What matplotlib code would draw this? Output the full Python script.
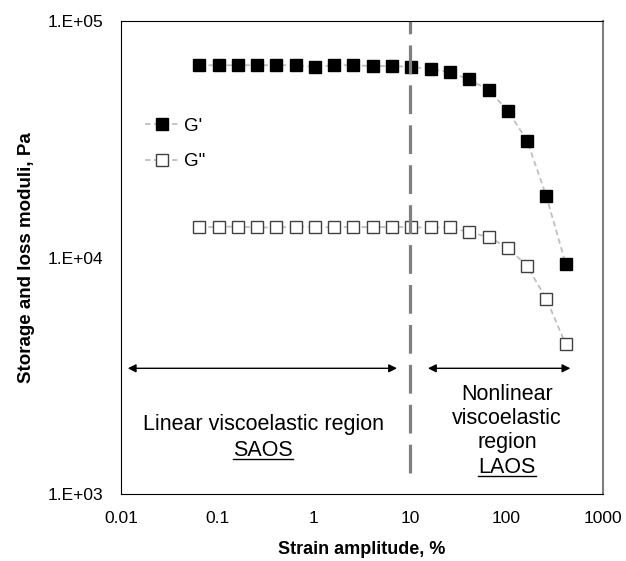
import numpy as np
import matplotlib.pyplot as plt

plt.rcParams['font.family'] = ['Liberation Sans', 'DejaVu Sans']

# strain amplitude (%)
strain = [0.065, 0.103, 0.163, 0.258, 0.41, 0.65, 1.03, 1.63, 2.58, 4.1,
          6.5, 10.3, 16.3, 25.8, 41, 65, 103, 163, 258, 410]
# storage modulus G' (Pa)
g_storage = [6.5e4, 6.5e4, 6.5e4, 6.5e4, 6.5e4, 6.5e4, 6.4e4, 6.5e4, 6.5e4, 6.45e4,
             6.45e4, 6.4e4, 6.27e4, 6.07e4, 5.66e4, 5.1e4, 4.18e4, 3.12e4, 1.82e4, 9.4e3]
# loss modulus G'' (Pa)
g_loss = [1.34e4, 1.35e4, 1.35e4, 1.34e4, 1.34e4, 1.35e4, 1.35e4, 1.34e4, 1.35e4, 1.34e4,
          1.35e4, 1.34e4, 1.34e4, 1.34e4, 1.28e4, 1.22e4, 1.1e4, 9.2e3, 6.7e3, 4.3e3]

xticks = [0.01, 0.1, 1, 10, 100, 1000]
xticklabels = ['0.01', '0.1', '1', '10', '100', '1000']
yticks = [1e3, 1e4, 1e5]
yticklabels = ['1.E+03', '1.E+04', '1.E+05']

fig = plt.figure(figsize=(6.26, 5.61), dpi=100)
ax = fig.add_axes([121/626, 67/561, 482/626, 473/561])

ax.plot(strain, g_storage, color='#BFBFBF', ls=(0, (3, 2)), lw=1.3,
        marker='s', ms=8.5, mfc='black', mec='black', label="G'")
ax.plot(strain, g_loss, color='#BFBFBF', ls=(0, (3, 2)), lw=1.3,
        marker='s', ms=8, mfc='white', mec='#404040', mew=1.0, label='G"')

ax.set_xscale('log')
ax.set_yscale('log')
ax.set_xlim(0.01, 1000)
ax.set_ylim(1e3, 1e5)
ax.set_xticks(xticks)
ax.set_xticklabels(xticklabels)
ax.set_yticks(yticks)
ax.set_yticklabels(yticklabels)
ax.minorticks_off()
ax.tick_params(length=0, labelsize=12.5)
ax.tick_params(axis='y', pad=13)
ax.tick_params(axis='x', pad=12)

for s in ['top', 'left', 'bottom']:
    ax.spines[s].set_color('black')
ax.spines['right'].set_color('#808080')
ax.spines['right'].set_linewidth(1.5)

ax.set_xlabel('Strain amplitude, %', fontsize=13, fontweight='bold', labelpad=11)
ax.set_ylabel('Storage and loss moduli, Pa', fontsize=13.5, fontweight='bold', labelpad=9)

# boundary between SAOS and LAOS
ax.plot([10, 10], [1.23e3, 1e5], color='#808080', lw=2.3, ls=(0, (9, 3.5)))

arrow = dict(arrowstyle='<|-|>', color='black', lw=1, mutation_scale=12)
ax.annotate('', xy=(0.011, 3400), xytext=(7.8, 3400), arrowprops=arrow)
ax.annotate('', xy=(14.3, 3400), xytext=(490, 3400), arrowprops=arrow)

ax.text(0.295, 0.146, 'Linear viscoelastic region', transform=ax.transAxes,
        ha='center', va='center', fontsize=15.5)
t1 = ax.text(0.295, 0.093, 'SAOS', transform=ax.transAxes,
             ha='center', va='center', fontsize=15.5)
ax.text(0.801, 0.159, 'Nonlinear\nviscoelastic\nregion', transform=ax.transAxes,
        ha='center', va='center', fontsize=15.5, linespacing=1.2)
t2 = ax.text(0.801, 0.056, 'LAOS', transform=ax.transAxes,
             ha='center', va='center', fontsize=15.5)

ax.legend(loc='center left', bbox_to_anchor=(0.035, 0.74), frameon=False,
          fontsize=13.5, handlelength=1.8, numpoints=1, labelspacing=1.0,
          handletextpad=0.25, borderaxespad=0)

# underline SAOS / LAOS
fig.canvas.draw()
inv = fig.transFigure.inverted()
for t in [t1, t2]:
    bb = t.get_window_extent()
    (x0, y0), (x1, y1) = inv.transform([(bb.x0, bb.y0 + 2), (bb.x1, bb.y0 + 2)])
    fig.add_artist(plt.Line2D([x0, x1], [y0, y1], color='black', lw=1))

fig.savefig('out.png', dpi=100)
